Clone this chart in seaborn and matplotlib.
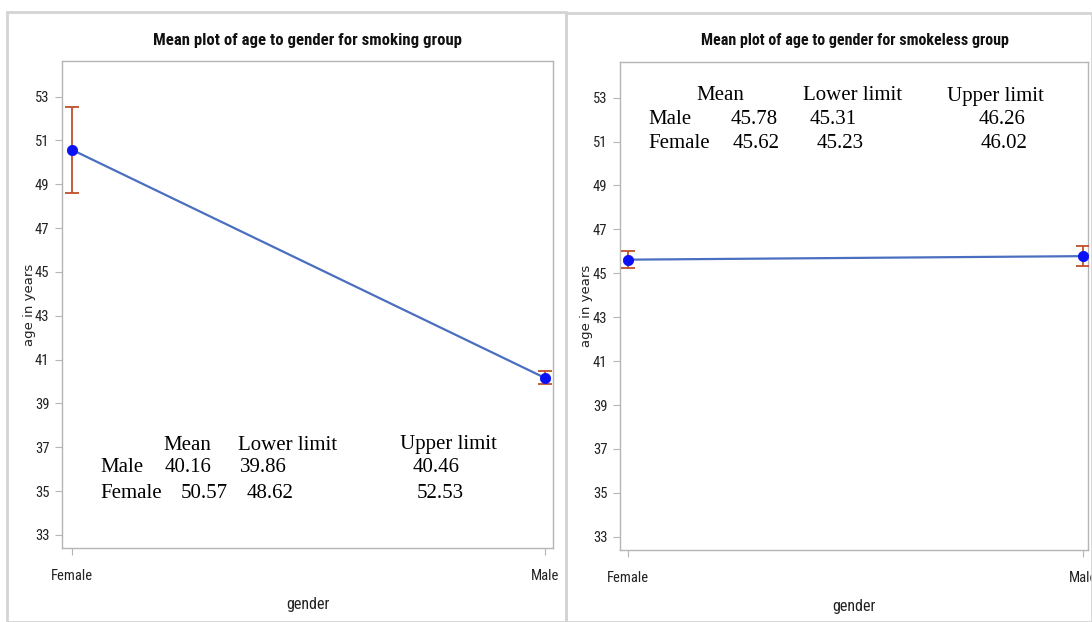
import numpy as np
import pandas as pd
import seaborn as sns
import matplotlib
matplotlib.use("Agg")
import matplotlib.pyplot as plt
from matplotlib.patches import Rectangle
from matplotlib import font_manager as fm

# ---------------- data ----------------
genders = ["Female", "Male"]
smoking_mean = [50.57, 40.16]
smoking_lower = [48.62, 39.86]
smoking_upper = [52.53, 40.46]
smokeless_mean = [45.62, 45.78]
smokeless_lower = [45.23, 45.31]
smokeless_upper = [46.02, 46.26]
yticks = [33, 35, 37, 39, 41, 43, 45, 47, 49, 51, 53]
titles = ["Mean plot of age to gender for smoking group",
          "Mean plot of age to gender for smokeless group"]
table_header = ["Mean", "Lower limit", "Upper limit"]

sns.set_style("white")
plt.rcParams["font.family"] = ["DejaVu Sans"]

# pick a condensed sans if one is installed
_fonts = fm.fontManager.ttflist
_names = {f.name for f in _fonts}
NARROW_KW = {"family": ["DejaVu Sans"]}
for cand in ["Liberation Sans Narrow", "Roboto Condensed", "Open Sans Condensed", "Noto Sans Condensed"]:
    if cand in _names:
        NARROW_KW = {"family": [cand, "DejaVu Sans"]}
        break
else:
    if any(f.name == "DejaVu Sans" and f.stretch in ("condensed", 600, "semi-condensed") or
           (f.name == "DejaVu Sans" and "Condensed" in f.fname) for f in _fonts):
        NARROW_KW = {"family": ["DejaVu Sans"], "stretch": "condensed"}
SERIF = ["Liberation Serif", "DejaVu Serif"]

W, H = 1092, 622
fig = plt.figure(figsize=(W / 100, H / 100), dpi=100)
fig.patch.set_facecolor("white")

def fx(x):
    return x / W

def fy(y):
    return 1 - y / H

# panel borders
for (x0, x1, y0) in [(7, 566, 12), (566, 1092, 13)]:
    fig.patches.append(Rectangle((fx(x0), 0), fx(x1 - x0), fy(y0), transform=fig.transFigure,
                                 fill=False, edgecolor="#d4d4d4", linewidth=2, zorder=0))

LINE = "#4a6fc0"
MARK = "#0a12f5"
ERR = "#c0502a"
FRAME = "#b5b5b5"
TXT = "#222222"

renderer = fig.canvas.get_renderer()

def fit_text(t, target_px):
    ext = t.get_window_extent(renderer=renderer)
    if ext.width > 0:
        t.set_fontsize(t.get_fontsize() * target_px / ext.width)

def panel(rect, means, lows, ups, xlim, title, tx, ylab_x, ax_h):
    ax = fig.add_axes(rect)
    df = pd.DataFrame({"gender": genders, "mean": means})
    sns.lineplot(data=df, x="gender", y="mean", ax=ax, color=LINE, linewidth=1.6,
                 sort=False, zorder=2)
    m = np.array(means)
    yerr = np.vstack([m - np.array(lows), np.array(ups) - m])
    ax.errorbar([0, 1], m, yerr=yerr, fmt="none", ecolor=ERR, elinewidth=1.3,
                capsize=5, capthick=1.3, zorder=3)
    sns.scatterplot(data=df, x="gender", y="mean", ax=ax, color=MARK, s=55,
                    marker="o", edgecolor=MARK, zorder=4)
    ax.set_xlim(*xlim)
    ax.set_ylim(32.4, 54.62)
    ax.set_yticks(yticks)
    ax.set_yticklabels([str(t) for t in yticks], fontsize=10.5, color=TXT, **NARROW_KW)
    ax.set_xticks([0, 1])
    ax.set_xticklabels(genders, fontsize=10.5, color=TXT, **NARROW_KW)
    ax.tick_params(axis="both", which="both", direction="out", length=5, width=0.8,
                   color=FRAME, pad=4, left=True, bottom=True)
    ax.tick_params(axis="x", pad=10)
    for s in ax.spines.values():
        s.set_color(FRAME)
        s.set_linewidth(1.0)
    ax.set_xlabel("gender", fontsize=11.5, color=TXT, **NARROW_KW)
    ax.xaxis.set_label_coords(0.5, -(597 - 548) / ax_h)
    ax.set_ylabel("age in years", fontsize=9.5, color=TXT)
    ax.yaxis.set_label_coords(ylab_x, 0.5)
    t = fig.text(fx(tx), fy(40), title, fontweight="bold", fontsize=13,
                 ha="center", va="center", color="#111111", **NARROW_KW)
    fit_text(t, 306)
    return ax

ax1 = panel([fx(62), fy(548), fx(553 - 62), fy(61) - fy(548)],
            smoking_mean, smoking_lower, smoking_upper, (-0.021, 1.017), titles[0], 307,
            (36 - 62) / 491, 487)
ax2 = panel([fx(620), fy(550), fx(1088 - 620), fy(62) - fy(550)],
            smokeless_mean, smokeless_lower, smokeless_upper, (-0.0176, 1.011), titles[1], 855,
            (593 - 620) / 468, 488)

# summary tables (serif text)
def tt(x, y, s):
    fig.text(fx(x), fy(y), s, family=SERIF, fontsize=15, ha="left", va="center", color="#000000")

# left (smoking) table: rows Male, Female
tt(163, 445, table_header[0]); tt(238, 445, table_header[1]); tt(400, 445, table_header[2])
tt(100, 468, "Male"); tt(165, 468, f"{smoking_mean[1]:.2f}"); tt(240, 468, f"{smoking_lower[1]:.2f}"); tt(413, 468, f"{smoking_upper[1]:.2f}")
tt(100, 493, "Female"); tt(181, 493, f"{smoking_mean[0]:.2f}"); tt(247, 493, f"{smoking_lower[0]:.2f}"); tt(417, 493, f"{smoking_upper[0]:.2f}")

# right (smokeless) table
tt(696, 96, table_header[0]); tt(803, 96, table_header[1]); tt(947, 96, table_header[2])
tt(648, 120, "Male"); tt(731, 120, f"{smokeless_mean[1]:.2f}"); tt(810, 120, f"{smokeless_lower[1]:.2f}"); tt(979, 120, f"{smokeless_upper[1]:.2f}")
tt(648, 144, "Female"); tt(733, 144, f"{smokeless_mean[0]:.2f}"); tt(817, 144, f"{smokeless_lower[0]:.2f}"); tt(981, 144, f"{smokeless_upper[0]:.2f}")

fig.savefig("out.png", dpi=100, facecolor="white")
